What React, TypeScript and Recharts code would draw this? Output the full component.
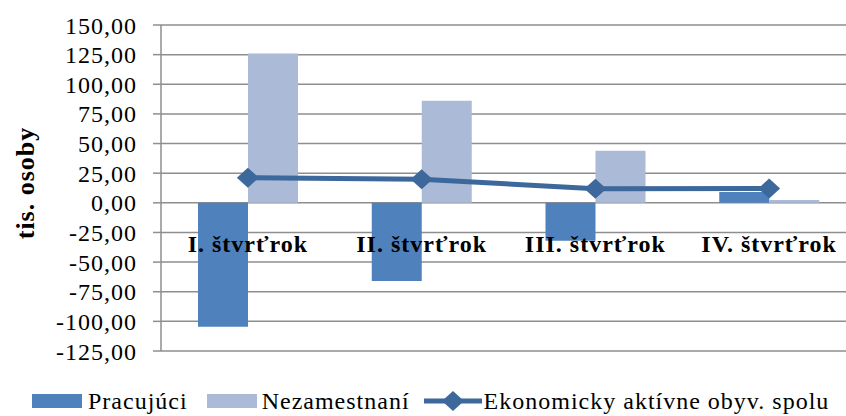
import React from 'react';
import {
  ComposedChart,
  Bar,
  Line,
  XAxis,
  YAxis,
  CartesianGrid,
  ReferenceDot,
  Legend,
  Label,
} from 'recharts';

const categories = ['I. štvrťrok', 'II. štvrťrok', 'III. štvrťrok', 'IV. štvrťrok'];
const pracujuci = [-104.5, -66, -32, 9.2];
const nezamestnani = [126, 86.1, 44, 2.4];
const ekonomickyAktivni = [21.2, 19.8, 11.9, 12.1];
const yTicks = [-125, -100, -75, -50, -25, 0, 25, 50, 75, 100, 125, 150];
const seriesNames = ['Pracujúci', 'Nezamestnaní', 'Ekonomicky aktívne obyv. spolu'];
const yTitle = 'tis. osoby';

const data = categories.map((name, i) => ({
  name,
  pracujuci: pracujuci[i],
  nezamestnani: nezamestnani[i],
  spolu: ekonomickyAktivni[i],
}));

const DARK = '#4F81BD';
const LIGHT = '#AABAD7';
const LINE = '#3C689C';
const GRID = '#8E8E8E';
const FONT = '"Liberation Serif", "Times New Roman", serif';

const fmt = (v: number) => v.toFixed(2).replace('.', ',');

const Diamond = (props: any) => {
  const { cx, cy } = props;
  if (cx == null || cy == null) return null;
  const w = 11;
  const h = 10;
  return (
    <polygon
      points={`${cx},${cy - h} ${cx + w},${cy} ${cx},${cy + h} ${cx - w},${cy}`}
      fill={LINE}
      stroke="none"
    />
  );
};

const LegendContent = () => (
  <div
    style={{
      display: 'flex',
      alignItems: 'center',
      fontFamily: FONT,
      fontSize: 24,
      letterSpacing: 1,
      height: 30,
      paddingLeft: 32,
      color: '#000',
      whiteSpace: 'nowrap',
    }}
  >
    <span style={{ width: 50, height: 14, background: DARK, display: 'inline-block' }} />
    <span style={{ marginLeft: 6 }}>{seriesNames[0]}</span>
    <span style={{ width: 50, height: 14, background: LIGHT, display: 'inline-block', marginLeft: 19 }} />
    <span style={{ marginLeft: 5 }}>{seriesNames[1]}</span>
    <svg width={58} height={22} style={{ marginLeft: 14 }}>
      <line x1={0} y1={11} x2={58} y2={11} stroke={LINE} strokeWidth={5} />
      <polygon points="29,1 40,11 29,21 18,11" fill={LINE} />
    </svg>
    <span style={{ marginLeft: 2 }}>{seriesNames[2]}</span>
  </div>
);

const YTitle = (props: any) => {
  const vb = props.viewBox || {};
  const x = (vb.x || 0) + 25;
  const y = (vb.y || 0) + (vb.height || 0) / 2 - 5;
  return (
    <text
      x={x}
      y={y}
      transform={`rotate(-90, ${x}, ${y})`}
      textAnchor="middle"
      dominantBaseline="central"
      fontFamily={FONT}
      fontSize={26}
      fontWeight="bold"
      letterSpacing={1}
      fill="#000"
    >
      {yTitle}
    </text>
  );
};

const makeCatLabel = (text: string) => (props: any) => {
  const vb = props.viewBox || {};
  const cx = (vb.x || 0) + (vb.width || 0) / 2;
  const cy = (vb.y || 0) + (vb.height || 0) / 2;
  return (
    <text
      x={cx}
      y={cy + 49}
      textAnchor="middle"
      fontFamily={FONT}
      fontSize={24}
      fontWeight="bold"
      letterSpacing={1}
      fill="#000"
    >
      {text}
    </text>
  );
};

export default function App() {
  return (
    <div
      style={{
        position: 'absolute',
        left: 0,
        top: 0,
        width: 846,
        height: 416,
        overflow: 'hidden',
        background: '#fff',
      }}
    >
      <ComposedChart
        width={870}
        height={416}
        data={data}
        margin={{ top: 25, right: 14, left: 0, bottom: 35 }}
        barGap={0}
      >
        <CartesianGrid horizontal vertical={false} stroke={GRID} strokeWidth={1.5} />
        <XAxis dataKey="name" hide />
        <YAxis
          domain={[-125, 150]}
          ticks={yTicks}
          interval={0}
          width={161}
          tickFormatter={fmt}
          tickSize={8}
          tickMargin={16}
          axisLine={{ stroke: GRID, strokeWidth: 1.5 }}
          tickLine={{ stroke: GRID, strokeWidth: 1.5 }}
          tick={{ fill: '#000', fontSize: 24, fontFamily: FONT, letterSpacing: 1 }}
        >
          <Label content={YTitle} />
        </YAxis>
        <Bar dataKey="pracujuci" name={seriesNames[0]} fill={DARK} barSize={50} isAnimationActive={false} />
        <Bar dataKey="nezamestnani" name={seriesNames[1]} fill={LIGHT} barSize={50} isAnimationActive={false} />
        <Line
          type="linear"
          dataKey="spolu"
          name={seriesNames[2]}
          stroke={LINE}
          strokeWidth={5}
          dot={<Diamond />}
          activeDot={false}
          isAnimationActive={false}
        />
        {categories.map((c) => (
          <ReferenceDot
            key={c}
            x={c}
            y={0}
            r={0}
            fill="none"
            stroke="none"
            label={makeCatLabel(c)}
          />
        ))}
        <Legend
          verticalAlign="bottom"
          align="left"
          content={LegendContent}
          wrapperStyle={{ bottom: 0, left: 0, width: 846 }}
        />
      </ComposedChart>
    </div>
  );
}
